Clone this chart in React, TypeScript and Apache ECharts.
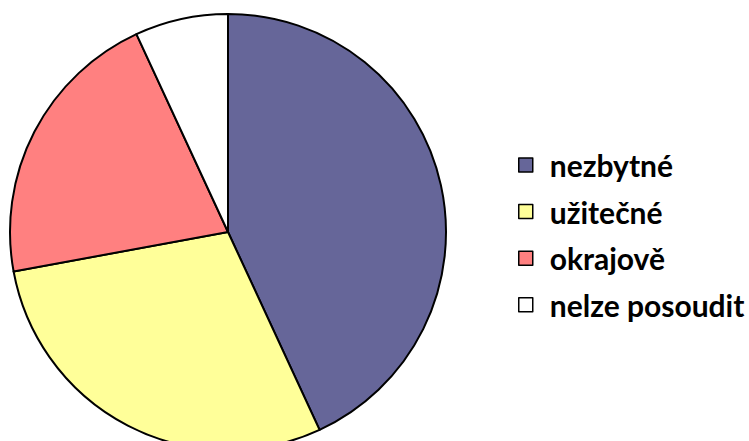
import React, { useEffect, useRef } from "react";
import * as echarts from "echarts";

const categories = ["nezbytné", "užitečné", "okrajově", "nelze posoudit"];
const values = [43.1, 29.0, 21.0, 6.9];
const colors = ["#666699", "#FFFF99", "#FF8080", "#FFFFFF"];

export default function App() {
  const ref = useRef<HTMLDivElement>(null);
  useEffect(() => {
    document.body.style.margin = "0";
    const chart = echarts.init(ref.current!, null, { renderer: "svg" });
    chart.setOption({
      animation: false,
      backgroundColor: "#ffffff",
      legend: {
        orient: "vertical",
        left: 518,
        top: 150,
        padding: 0,
        itemWidth: 14,
        itemHeight: 14,
        itemGap: 16.6,
        icon: "rect",
        itemStyle: { borderColor: "#000", borderWidth: 1.5 },
        textStyle: {
          fontFamily: "Lato",
          fontWeight: "bold",
          fontSize: 30,
          lineHeight: 30,
          color: "#000",
          padding: [0, 0, 0, 12],
        },
        data: categories,
      },
      series: [
        {
          type: "pie",
          center: [228, 232],
          radius: 218,
          startAngle: 90,
          clockwise: true,
          label: { show: false },
          labelLine: { show: false },
          emphasis: { disabled: true },
          itemStyle: { borderColor: "#000", borderWidth: 2 },
          data: categories.map((c, i) => ({
            name: c,
            value: values[i],
            itemStyle: { color: colors[i] },
          })),
        },
      ],
    });
    return () => chart.dispose();
  }, []);
  return <div ref={ref} style={{ width: 749, height: 441 }} />;
}
